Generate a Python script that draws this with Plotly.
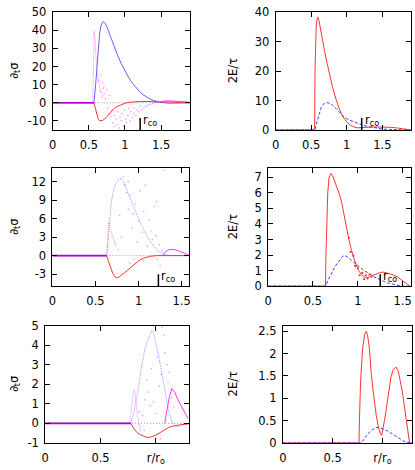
"""
Six-panel radial profiles: d_t sigma (left) and 2E/tau (right) vs r/r_o.
"""

import plotly.graph_objects as go

# ---- panel 1 (top left): d_t sigma ----
p1_r_blue = [0, 0.57, 0.59, 0.61, 0.63, 0.65, 0.67, 0.70, 0.73, 0.76, 0.80, 0.85, 0.90, 0.95,
             1.00, 1.05, 1.10, 1.15, 1.20, 1.25, 1.30, 1.35, 1.40, 1.45, 1.50, 1.60, 1.70, 1.80, 1.90]
p1_blue = [0, 0, 8, 19, 31, 38.5, 42.8, 44.8, 43.5, 41, 36.5, 31, 26, 21.5,
           17.5, 14, 11, 8.3, 6.2, 4.4, 3.0, 2.0, 1.2, 0.6, 0.2, -0.2, -0.3, -0.2, -0.1]
p1_r_red = [0, 0.57, 0.59, 0.61, 0.63, 0.65, 0.67, 0.69, 0.72, 0.76, 0.80, 0.85, 0.90, 0.95,
            1.00, 1.05, 1.10, 1.20, 1.30, 1.40, 1.50, 1.60, 1.70, 1.80, 1.90]
p1_red = [0, 0, -3, -6.5, -9, -10, -10, -9.7, -9.0, -7.3, -5.2, -3.2, -1.9, -1.0,
          -0.3, 0.2, 0.5, 0.7, 0.7, 0.6, 0.5, 0.4, 0.3, 0.2, 0.1]
p1_r_spike = [0.555, 0.565, 0.573, 0.587, 0.605, 0.628, 0.65, 0.68, 0.70]
p1_spike = [0, 30, 40, 35, 21, 13.6, 8, 5.5, 4]
p1_r_bump = [1.40, 1.45, 1.50, 1.55, 1.62, 1.70, 1.78, 1.85, 1.90]
p1_bump = [0.1, 0.5, 0.8, 1.0, 1.05, 0.9, 0.7, 0.4, 0.25]
p1_r_dots = [0.64, 0.66, 0.67, 0.68, 0.69, 0.70, 0.71, 0.72, 0.73, 0.75, 0.76, 0.78, 0.79, 0.80,
             0.82, 0.83, 0.85, 0.86, 0.88, 0.89, 0.90, 0.92, 0.93, 0.95, 0.96, 0.98, 0.99,
             1.01, 1.02, 1.04, 1.05, 1.07, 1.08, 1.10, 1.12, 1.13, 1.15, 1.17, 1.19, 1.21,
             1.23, 1.26, 1.29, 1.32, 1.35, 1.38]
p1_dots = [12, 6, 15, 3, 11, 8, 9, 5, 2, 7, -3, -6, 4, -8,
           -4, -11, -7, -13, -9, -5, -12, -14, -8, -10, -6, -13, -4,
           -9, -11, -7, -3, -10, -5, -8, -6, -3, -7, -4, -5, -2,
           -4, -3, -2, -1.5, -1, -0.5]
p1_rco = 1.21

# ---- panel 2 (top right): 2E/tau ----
p2_r_red = [0, 0.548, 0.553, 0.56, 0.57, 0.58, 0.593, 0.61, 0.63, 0.66, 0.69, 0.72, 0.76, 0.80,
            0.85, 0.90, 0.95, 1.00, 1.05, 1.10, 1.15, 1.20, 1.30, 1.40, 1.50, 1.60, 1.70,
            1.80, 1.85, 1.90]
p2_red = [0, 0, 20, 30, 35, 37.5, 38.3, 37, 34, 30, 26.5, 23, 18.5, 14.5,
          10.3, 6.8, 4.3, 2.7, 1.6, 1.0, 0.7, 0.7, 0.9, 1.0, 1.0, 0.9, 0.7,
          0.4, 0.2, 0.0]
p2_r_blue = [0, 0.55, 0.57, 0.593, 0.62, 0.64, 0.67, 0.70, 0.72, 0.75, 0.80, 0.85, 0.90, 0.96,
             1.03, 1.10, 1.17, 1.23, 1.30, 1.37, 1.45, 1.50, 1.60, 1.70, 1.80, 1.90]
p2_blue = [0, 0, 1.8, 3.8, 6, 7.6, 8.7, 9.2, 9.3, 9.1, 8.4, 7.3, 6.0, 4.4,
           3.4, 2.7, 2.1, 1.6, 1.2, 0.9, 0.5, 0.3, 0.15, 0.08, 0.03, 0]
p2_rco = 1.21

# ---- panel 3 (middle left) ----
p3_r_blue = [0, 0.63, 0.64, 0.66, 0.68, 0.70, 0.72, 0.75, 0.78, 0.80, 0.83, 0.87, 0.91, 0.95,
             1.00, 1.05, 1.10, 1.15, 1.20, 1.25, 1.30, 1.35, 1.40, 1.50, 1.59]
p3_blue = [0, 0, 1.5, 5, 8.3, 10, 11.2, 12.1, 12.5, 12.5, 11.8, 10.4, 9.0, 7.7,
           6.0, 4.5, 3.1, 2.0, 1.1, 0.5, 0.2, 0.05, 0, 0, 0]
p3_r_red = [0, 0.63, 0.65, 0.67, 0.70, 0.73, 0.75, 0.77, 0.80, 0.83, 0.87, 0.91, 0.95, 1.00,
            1.06, 1.14, 1.21, 1.30, 1.40, 1.50, 1.59]
p3_red = [0, 0, -0.9, -1.7, -2.9, -3.5, -3.6, -3.5, -3.2, -2.9, -2.4, -1.9, -1.4, -0.85,
          -0.4, -0.1, 0, 0, 0, 0, 0]
p3_r_spike = [0.63, 0.64, 0.653, 0.67, 0.69, 0.71, 0.737]
p3_spike = [0, 3.0, 5.4, 4.5, 3.5, 2.5, 1.5]
p3_r_bump = [1.28, 1.31, 1.35, 1.40, 1.45, 1.50, 1.55, 1.59]
p3_bump = [0, 0.6, 0.95, 1.0, 0.85, 0.6, 0.3, 0.05]
p3_r_dots = [0.76, 0.78, 0.80, 0.82, 0.84, 0.86, 0.88, 0.88, 0.90, 0.90, 0.92, 0.94, 0.95, 0.96,
             0.98, 1.00, 1.02, 1.04, 1.05, 1.06, 1.08, 1.10, 1.12, 1.14, 1.16, 1.18, 1.20,
             1.21, 1.22, 1.24, 1.25, 1.27, 1.30]
p3_dots = [1.0, 6.5, 3.0, 12.8, 11.5, 10.2, 7.5, 12.0, 9.8, -1.2, 4.5, 6.8, -0.5, 8.4,
           2.2, 5.6, 10.5, 3.8, -0.8, 7.2, 11.4, 1.5, 5.8, 4.0, 2.6, 8.0, 3.2,
           8.8, -0.6, 1.8, -1.6, 0.8, 13.8]
p3_rco = 1.23

# ---- panel 4 (middle right) ----
p4_r_red = [0, 0.64, 0.645, 0.655, 0.665, 0.68, 0.70, 0.72, 0.76, 0.79, 0.82, 0.85, 0.87, 0.90,
            0.93, 0.96, 0.98, 1.01, 1.04, 1.07, 1.10, 1.13, 1.17, 1.21, 1.25, 1.29, 1.33,
            1.38, 1.44, 1.49, 1.54, 1.58]
p4_red = [0, 0, 2.0, 4.4, 6.0, 7.0, 7.25, 7.1, 6.5, 6.0, 5.4, 4.5, 3.8, 3.0,
          2.3, 1.7, 1.4, 1.0, 0.75, 0.6, 0.55, 0.6, 0.7, 0.8, 0.88, 0.9, 0.85,
          0.75, 0.6, 0.4, 0.2, 0.0]
p4_r_noise = [0.90, 0.92, 0.95, 0.97, 1.00, 1.02, 1.05, 1.07, 1.09, 1.11, 1.13, 1.15]
p4_noise = [3.1, 2.2, 1.95, 1.3, 1.15, 0.7, 0.85, 0.45, 0.7, 0.5, 0.75, 0.6]
p4_r_blue = [0, 0.64, 0.67, 0.71, 0.75, 0.79, 0.82, 0.85, 0.88, 0.92, 0.96, 1.00, 1.07, 1.13,
             1.18, 1.24, 1.29, 1.35, 1.40, 1.45, 1.50, 1.59]
p4_blue = [0, 0, 0.4, 0.9, 1.3, 1.6, 1.85, 1.98, 1.9, 1.7, 1.5, 1.3, 1.0, 0.8,
           0.6, 0.45, 0.3, 0.18, 0.1, 0.05, 0.0, 0.0]
p4_rco = 1.25

# ---- panel 5 (bottom left) ----
p5_r_blue = [0, 0.773, 0.80, 0.82, 0.84, 0.86, 0.88, 0.91, 0.94, 0.96, 0.98, 1.00, 1.02, 1.04,
             1.06, 1.08, 1.10, 1.12, 1.145, 1.16, 1.18, 1.20, 1.22, 1.25, 1.30]
p5_blue = [0, 0, 0.5, 1.05, 1.7, 2.5, 3.2, 4.0, 4.5, 4.75, 4.6, 4.15, 3.6, 3.0,
           2.4, 1.7, 1.0, 0.5, 0.1, -0.05, -0.15, -0.17, -0.15, -0.05, 0]
p5_r_red = [0, 0.773, 0.80, 0.83, 0.86, 0.88, 0.90, 0.92, 0.95, 0.98, 1.00, 1.03, 1.06, 1.09,
            1.12, 1.15, 1.18, 1.22, 1.26, 1.30]
p5_red = [0, 0, -0.25, -0.47, -0.58, -0.64, -0.69, -0.72, -0.71, -0.66, -0.6, -0.5, -0.4, -0.3,
          -0.2, -0.15, -0.1, -0.07, -0.05, -0.02]
p5_r_spike = [0.765, 0.78, 0.795, 0.805, 0.815, 0.83, 0.845, 0.86]
p5_spike = [0, 0.8, 1.5, 1.7, 1.4, 0.6, 0.0, -0.4]
p5_r_bump = [1.08, 1.10, 1.12, 1.145, 1.17, 1.20, 1.23, 1.26, 1.29]
p5_bump = [0, 0.6, 1.3, 1.78, 1.6, 1.2, 0.9, 0.6, 0.25]
p5_r_dots = [0.85, 0.88, 0.895, 0.90, 0.92, 0.93, 0.95, 0.96, 0.98, 1.00, 1.01, 1.03, 1.04,
             1.05, 1.056, 1.07, 1.08, 1.10, 1.11, 1.12, 1.14, 1.16]
p5_dots = [0.6, 0.4, -0.35, 1.2, 2.2, 1.6, 0.9, 2.8, 1.1, 0.5, 3.4, 1.9, -0.8,
           2.5, 4.9, 4.5, 3.6, 3.0, 2.1, 2.6, 1.3, 0.8]

# ---- panel 6 (bottom right) ----
p6_r_red = [0, 0.764, 0.77, 0.78, 0.80, 0.82, 0.837, 0.85, 0.87, 0.886, 0.91, 0.936, 0.96, 0.98,
            0.992, 1.005, 1.02, 1.035, 1.06, 1.085, 1.11, 1.135, 1.16, 1.18, 1.20, 1.225,
            1.25, 1.265, 1.272, 1.30]
p6_red = [0, 0, 0.6, 1.36, 2.1, 2.42, 2.5, 2.42, 2.1, 1.58, 1.1, 0.64, 0.35, 0.2,
          0.17, 0.3, 0.5, 0.7, 1.1, 1.47, 1.65, 1.7, 1.6, 1.4, 1.14, 0.75,
          0.35, 0.1, 0.0, 0.0]
p6_r_blue = [0, 0.787, 0.82, 0.853, 0.89, 0.936, 0.97, 1.00, 1.05, 1.10, 1.15, 1.19, 1.23, 1.30]
p6_blue = [0, 0, 0.1, 0.2, 0.28, 0.35, 0.34, 0.31, 0.27, 0.2, 0.13, 0.07, 0.02, 0]

# ---- axes: ranges and tick labels ----
x_ranges = [[0, 1.9], [0, 1.9], [0, 1.59], [0, 1.59], [0, 1.3], [0, 1.3]]
y_ranges = [[-15, 50], [0, 40], [-4.95, 14.2], [0, 7.6], [-1, 5], [0, 2.63]]
x_tickvals = [[0, 0.5, 1, 1.5]] * 4 + [[0, 0.5, 1]] * 2
x_ticktext = [["0", "0.5", "1", "1.5"]] * 4 + [["0", "0.5", "r/r<sub>o</sub>"]] * 2
y_tickvals = [
    [-10, 0, 10, 20, 30, 40, 50],
    [0, 10, 20, 30, 40],
    [-3, 0, 3, 6, 9, 12],
    [0, 1, 2, 3, 4, 5, 6, 7],
    [-1, 0, 1, 2, 3, 4, 5],
    [0, 0.5, 1, 1.5, 2, 2.5],
]
y_ticktext = [
    ["-10", "0", "10", "20", "30", "40", "50"],
    ["0", "10", "20", "30", "40"],
    ["-3", "0", "3", "6", "9", "12"],
    ["0", "1", "2", "3", "4", "5", "6", "7"],
    ["-1", "0", "1", "2", "3", "4", "5"],
    ["0", "0.5", "1", "1.5", "2", "2.5"],
]
y_titles = ["∂<sub>t</sub>σ", "2E/τ"] * 3

W, H = 415, 470
FONT = "DejaVu Sans"
RED = "rgb(255,50,50)"
BLUE = "rgb(60,60,255)"
MAGENTA = "rgba(255,0,255,0.45)"

# plot-area boxes in pixels: (left, right, top, bottom)
boxes = [
    (49.3, 188.3, 5.3, 126.7),
    (275.0, 411.7, 5.3, 126.7),
    (49.0, 187.7, 166.0, 287.7),
    (267.3, 411.7, 166.0, 287.7),
    (41.7, 187.3, 328.3, 449.3),
    (282.3, 413.3, 328.3, 449.3),
]
ytitle_x = [10, 232, 10, 232, 10, 232]

fig = go.Figure()


def line(i, x, y, color, width=1.0, dash="solid"):
    fig.add_trace(go.Scatter(
        x=x, y=y, mode="lines", xaxis=f"x{i}", yaxis=f"y{i}",
        line=dict(color=color, width=width, dash=dash), showlegend=False,
    ))


def dots(i, x, y, color, size=1.6):
    fig.add_trace(go.Scatter(
        x=x, y=y, mode="markers", xaxis=f"x{i}", yaxis=f"y{i}",
        marker=dict(color=color, size=size, line=dict(width=0)), showlegend=False,
    ))


# left panels: zero reference, blue, red, magenta
left = [
    (1, p1_r_blue, p1_blue, p1_r_red, p1_red, p1_r_spike, p1_spike, p1_r_bump, p1_bump,
     p1_r_dots, p1_dots, "solid"),
    (3, p3_r_blue, p3_blue, p3_r_red, p3_red, p3_r_spike, p3_spike, p3_r_bump, p3_bump,
     p3_r_dots, p3_dots, "1px,1px"),
    (5, p5_r_blue, p5_blue, p5_r_red, p5_red, p5_r_spike, p5_spike, p5_r_bump, p5_bump,
     p5_r_dots, p5_dots, "1px,1px"),
]
for i, rb, b, rr, r, rs, s, rbu, bu, rd, d, bdash in left:
    xmax = x_ranges[i - 1][1]
    line(i, [0, xmax], [0, 0], "rgb(150,150,150)", 1, "1px,2px")
    blue = "rgba(70,70,255,0.85)" if bdash == "solid" else "rgba(80,80,255,0.6)"
    line(i, rb, b, blue, 1.0, bdash)
    line(i, rr, r, RED, 1.0)
    dots(i, rd, d, MAGENTA)
    line(i, rs, s, "rgba(255,90,255,0.75)", 1.0, "1px,1px")
    line(i, rbu, bu, "rgb(240,60,240)", 1.0)
    line(i, [0, rb[1]], [0, 0], "rgb(170,0,220)", 1.6)

# right panels: red solid, blue dashed
for i, rr, r, rb, b in [(2, p2_r_red, p2_red, p2_r_blue, p2_blue),
                        (4, p4_r_red, p4_red, p4_r_blue, p4_blue),
                        (6, p6_r_red, p6_red, p6_r_blue, p6_blue)]:
    line(i, rr, r, RED, 1.0)
    line(i, rb, b, BLUE, 1.0, "3px,2px")
dots(4, p4_r_noise, p4_noise, RED, 2.2)

layout = dict(
    width=W, height=H, margin=dict(l=0, r=0, t=0, b=0),
    paper_bgcolor="white", plot_bgcolor="white", showlegend=False,
    font=dict(family=FONT, size=11.5, color="black"),
)
axis_style = dict(
    showline=True, linecolor="black", linewidth=1, mirror="ticks",
    ticks="inside", ticklen=5, tickcolor="black", tickwidth=1,
    showgrid=False, zeroline=False, tickfont=dict(family=FONT, size=11.5, color="black"),
)
annotations = []
shapes = []
for k, (x0, x1, y0, y1) in enumerate(boxes):
    i = k + 1
    sfx = "" if i == 1 else str(i)
    layout[f"xaxis{sfx}"] = dict(
        axis_style, domain=[x0 / W, x1 / W], range=x_ranges[k], anchor=f"y{i}",
        tickmode="array", tickvals=x_tickvals[k], ticktext=x_ticktext[k],
        ticklabelstandoff=4,
    )
    layout[f"yaxis{sfx}"] = dict(
        axis_style, domain=[1 - y1 / H, 1 - y0 / H], range=y_ranges[k], anchor=f"x{i}",
        tickmode="array", tickvals=y_tickvals[k], ticktext=y_ticktext[k],
        ticklabelstandoff=3,
    )
    annotations.append(dict(
        text=y_titles[k], textangle=-90, xref="paper", yref="paper",
        x=ytitle_x[k] / W, y=1 - (y0 + y1) / 2 / H, showarrow=False,
        xanchor="center", yanchor="middle", font=dict(family=FONT, size=11.5),
    ))

# r_co markers
for i, rco in [(1, p1_rco), (2, p2_rco), (3, p3_rco), (4, p4_rco)]:
    ymin = y_ranges[i - 1][0]
    shapes.append(dict(
        type="line", xref=f"x{i}", yref=f"y{i}", x0=rco, x1=rco,
        ysizemode="pixel", yanchor=ymin, y0=0, y1=12,
        line=dict(color="black", width=1.5),
    ))
    annotations.append(dict(
        text="r<sub>co</sub>", xref=f"x{i}", yref=f"y{i}", x=rco, y=ymin,
        xanchor="left", yanchor="bottom", xshift=1, yshift=0, showarrow=False,
        font=dict(family=FONT, size=11.5),
    ))

layout["annotations"] = annotations
layout["shapes"] = shapes
fig.update_layout(**layout)

fig.write_html(
    "out.html",
    config={"displayModeBar": False},
    post_script="document.body.style.margin='0';",
)
